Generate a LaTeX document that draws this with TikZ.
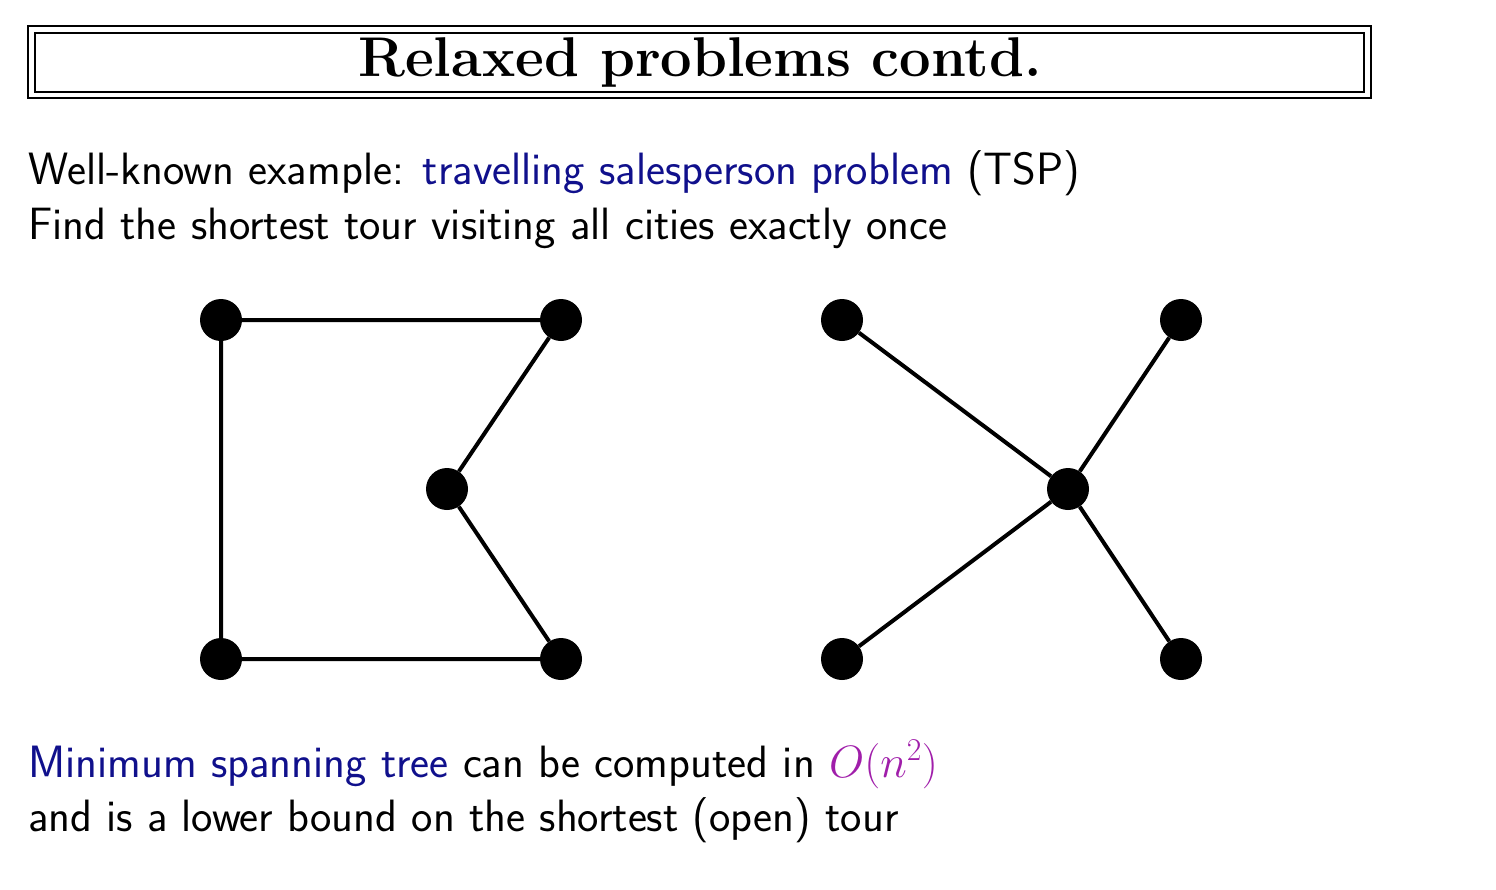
\documentclass[tikz,border=0pt]{standalone}
\usepackage{fix-cm}
\usepackage{fontspec}
\definecolor{navyblue}{RGB}{16,16,140}
\definecolor{mathpurple}{RGB}{160,30,170}
\tikzset{
  city/.style={circle,fill=black,inner sep=0pt,minimum size=42pt},
  edge/.style={line width=4pt},
  bodytext/.style={anchor=base west,inner sep=0pt,font=\sffamily\fontsize{45.3}{50}\selectfont},
}
\begin{document}
\begin{tikzpicture}[x=1pt,y=-1pt]
\useasboundingbox (0,0) rectangle (1496,889);
% title frame
\draw[line width=2pt] (28,26) rectangle (1371,97.5);
\draw[line width=2pt] (35,32.5) rectangle (1364,91.5);
\node[anchor=base,inner sep=0pt,font=\rmfamily\bfseries\fontsize{56}{60}\selectfont] (title) at (700,76) {Relaxed problems contd.};
% text
\node[bodytext] (l1) at (28,184) {Well-known example: \textcolor{navyblue}{travelling salesperson problem} (TSP)};
\node[bodytext] (l2) at (28,239) {Find the shortest tour visiting all cities exactly once};
% left graph (tour)
\node[city] (a1) at (221,320) {};
\node[city] (a2) at (561,320) {};
\node[city] (a3) at (447,489) {};
\node[city] (a4) at (221,659) {};
\node[city] (a5) at (561,659) {};
\draw[edge] (a1) -- (a2) -- (a3) -- (a5) -- (a4) -- (a1);
% right graph (tree)
\node[city] (b1) at (842,320) {};
\node[city] (b2) at (1181,320) {};
\node[city] (b3) at (1068,489) {};
\node[city] (b4) at (842,659) {};
\node[city] (b5) at (1181,659) {};
\draw[edge] (b1) -- (b3);
\draw[edge] (b2) -- (b3);
\draw[edge] (b4) -- (b3);
\draw[edge] (b5) -- (b3);
% bottom text
\node[bodytext] (l3) at (28,777) {\textcolor{navyblue}{Minimum spanning tree} can be computed in \textcolor{mathpurple}{$O(n^2)$}};
\node[bodytext] (l4) at (28,831) {and is a lower bound on the shortest (open) tour};
\end{tikzpicture}
\end{document}
